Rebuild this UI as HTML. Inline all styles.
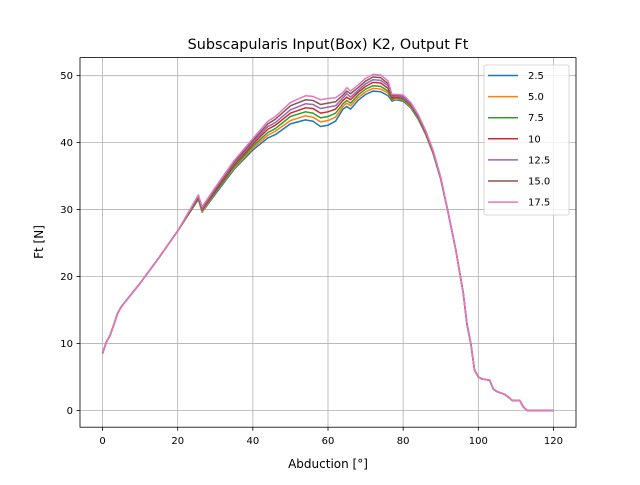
<!DOCTYPE html>
<html><head><meta charset="utf-8"><style>
body{margin:0;background:#fff;}
svg text{font-family:"DejaVu Sans","Liberation Sans",sans-serif;}
</style></head><body>
<svg id="chart" width="640" height="480" xmlns="http://www.w3.org/2000/svg">
<rect width="640" height="480" fill="#fff"/>
<g id="grid"></g>
<g id="lines"></g>
<rect x="80" y="57.6" width="496" height="369.6" fill="none" stroke="#000" stroke-width="0.8"/>
<g id="ticks"></g>
<text x="328" y="49" font-size="14.4" text-anchor="middle">Subscapularis Input(Box) K2, Output Ft</text>
<text x="328" y="468" font-size="12" text-anchor="middle">Abduction [°]</text>
<text x="0" y="0" font-size="12" text-anchor="middle" transform="translate(43,242) rotate(-90)">Ft [N]</text>
<g id="legend"></g>
</svg>
<script>
const xVals=[0,1,2,3,4,5,6,10,15,20,25.5,26.5,30,35,40,44,46,50,54,56,58,60,62,64,65,66,68,70,72,74,76,77,78,80,82,84,86,88,90,92,94,96,97,98,99,100,101,103,104,105,107,108,109,111,112,113,120];
const headVals=[8.5,10.2,11.2,12.8,14.5,15.5,16.2,19,22.8,26.8];
const tailVals=[29.5,24,17.5,12.8,10,6,5,4.7,4.5,3.2,2.8,2.4,2,1.5,1.5,0.5,0,0];
const mid25=[31.5,29.6,32.3,36.0,38.9,40.7,41.2,42.8,43.4,43.2,42.4,42.6,43.2,45.0,45.4,45.0,46.3,47.2,47.7,47.6,47.0,46.2,46.4,46.2,45.2,43.5,41.2,38.3,34.5];
const mid50=[31.6,29.7,32.5,36.2,39.2,41.1,41.7,43.3,44.0,43.8,43.1,43.3,43.8,45.4,45.9,45.5,46.7,47.6,48.1,48.0,47.4,46.4,46.5,46.4,45.3,43.6,41.3,38.4,34.6];
const mid75=[31.7,29.9,32.6,36.4,39.5,41.5,42.1,43.9,44.6,44.4,43.7,43.9,44.4,45.8,46.3,45.9,47.1,48.0,48.5,48.4,47.7,46.5,46.7,46.5,45.5,43.7,41.4,38.5,34.6];
const mid10=[31.9,30.0,32.8,36.7,39.8,42.0,42.6,44.4,45.2,45.1,44.4,44.6,45.0,46.3,46.8,46.4,47.5,48.4,49.0,48.9,48.1,46.7,46.8,46.7,45.6,43.9,41.5,38.6,34.7];
const mid125=[32.0,30.1,33.0,36.9,40.0,42.4,43.0,44.9,45.8,45.7,45.1,45.3,45.5,46.7,47.3,46.8,47.8,48.8,49.4,49.3,48.5,46.9,46.9,46.8,45.7,44.0,41.6,38.6,34.7];
const mid150=[32.1,30.3,33.1,37.1,40.3,42.8,43.5,45.5,46.4,46.3,45.7,45.9,46.1,47.1,47.7,47.3,48.2,49.2,49.8,49.7,48.8,47.0,47.1,47.0,45.9,44.1,41.7,38.7,34.8];
const mid175=[32.2,30.4,33.3,37.3,40.6,43.2,43.9,46.0,47.0,46.9,46.4,46.6,46.7,47.5,48.2,47.7,48.6,49.6,50.2,50.1,49.2,47.2,47.2,47.1,46.0,44.2,41.8,38.8,34.8];
const seriesLabels=["2.5","5.0","7.5","10","12.5","15.0","17.5"];
const seriesMids=[mid25,mid50,mid75,mid10,mid125,mid150,mid175];
const colors=["#1f77b4","#ff7f0e","#2ca02c","#d62728","#9467bd","#8c564b","#e377c2"];
const xTicks=[0,20,40,60,80,100,120];
const yTicks=[0,10,20,30,40,50];
const NS="http://www.w3.org/2000/svg";
const X0=80,X1=576,Y0=427.2,Y1=57.6,xmin=-6,xmax=126,ymin=-2.51,ymax=52.7;
const sx=v=>X0+(v-xmin)/(xmax-xmin)*(X1-X0);
const sy=v=>Y0-(v-ymin)/(ymax-ymin)*(Y0-Y1);
function mk(tag,attrs,parent){const e=document.createElementNS(NS,tag);for(const k in attrs)e.setAttribute(k,attrs[k]);parent.appendChild(e);return e;}
const grid=document.getElementById('grid'),ticks=document.getElementById('ticks');
xTicks.forEach(t=>{const x=sx(t);
 const g=mk('line',{x1:x,x2:x,y1:Y0,y2:Y1,stroke:'#b0b0b0','stroke-width':0.8},grid);
 
 
 mk('line',{x1:x,x2:x,y1:Y0,y2:Y0+3.5,stroke:'#000','stroke-width':0.8},ticks);
 const tx=mk('text',{x:x,y:Y0+17,'font-size':10,'text-anchor':'middle'},ticks);tx.textContent=t;
 
 
});
yTicks.forEach(t=>{const y=sy(t);
 const g=mk('line',{x1:X0,x2:X1,y1:y,y2:y,stroke:'#b0b0b0','stroke-width':0.8},grid);
 
 
 mk('line',{x1:X0-3.5,x2:X0,y1:y,y2:y,stroke:'#000','stroke-width':0.8},ticks);
 const tx=mk('text',{x:X0-7,y:y+3.5,'font-size':10,'text-anchor':'end'},ticks);tx.textContent=t;
 
 
});
const lines=document.getElementById('lines'),legend=document.getElementById('legend');
const lb=mk('rect',{x:484,y:65,width:85,height:150,rx:2,fill:'#fff','fill-opacity':0.8,stroke:'#ccc','stroke-width':0.8},legend);


seriesMids.forEach((mid,i)=>{
 const vals=headVals.concat(mid,tailVals);
 const d=xVals.map((x,j)=>(j?'L':'M')+sx(x).toFixed(2)+','+sy(vals[j]).toFixed(2)).join(' ');
 const p=mk('path',{d:d,fill:'none',stroke:colors[i],'stroke-width':1.5,'stroke-linejoin':'round'},lines);
 
 
 const ly=75.5+i*21.1;
 const l=mk('line',{x1:488,x2:518,y1:ly,y2:ly,stroke:colors[i],'stroke-width':1.5},legend);
 
 
 const t=mk('text',{x:528,y:ly+3.5,'font-size':10},legend);t.textContent=seriesLabels[i];
 
 
});
</script>
</body></html>
